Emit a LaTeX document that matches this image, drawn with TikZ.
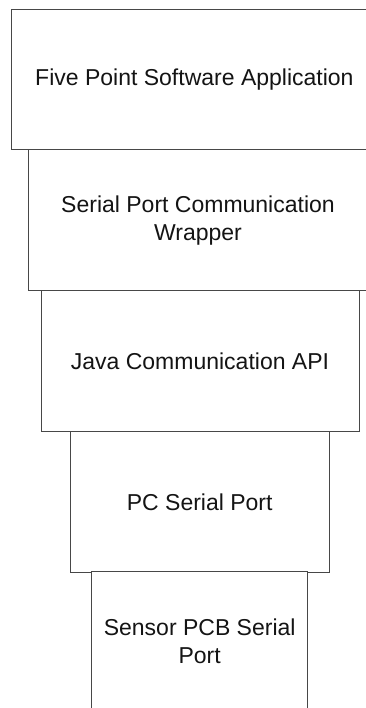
\documentclass[tikz,border=0pt]{standalone}
\usepackage{fontspec}
\setmainfont{Liberation Sans}
\begin{document}
\begin{tikzpicture}[x=1pt,y=1pt,
  layer/.style={draw=black!72, line width=1pt, fill=white, inner sep=0pt,
    align=center, font=\fontsize{23}{28}\selectfont, text=black!92}]
\useasboundingbox (0,0) rectangle (366,708);
\clip (0,0) rectangle (366,708);
\fill[white] (0,0) rectangle (366,708);
% stacked software / hardware layers, top to bottom
\node[layer, minimum width=365pt, minimum height=140pt] (app) at (194.4,628)
  {Five Point Software Application};
\node[layer, minimum width=340pt, minimum height=141pt] (wrap) at (198,487.5)
  {Serial Port Communication\\Wrapper};
\node[layer, minimum width=318pt, minimum height=140.7pt] (java) at (200,346.7)
  {Java Communication API};
\node[layer, minimum width=258.7pt, minimum height=141pt] (pc) at (199.7,205.8)
  {PC Serial Port};
\node[layer, minimum width=216pt, minimum height=141pt] (pcb) at (199.7,66.3)
  {Sensor PCB Serial\\Port};
\end{tikzpicture}
\end{document}
